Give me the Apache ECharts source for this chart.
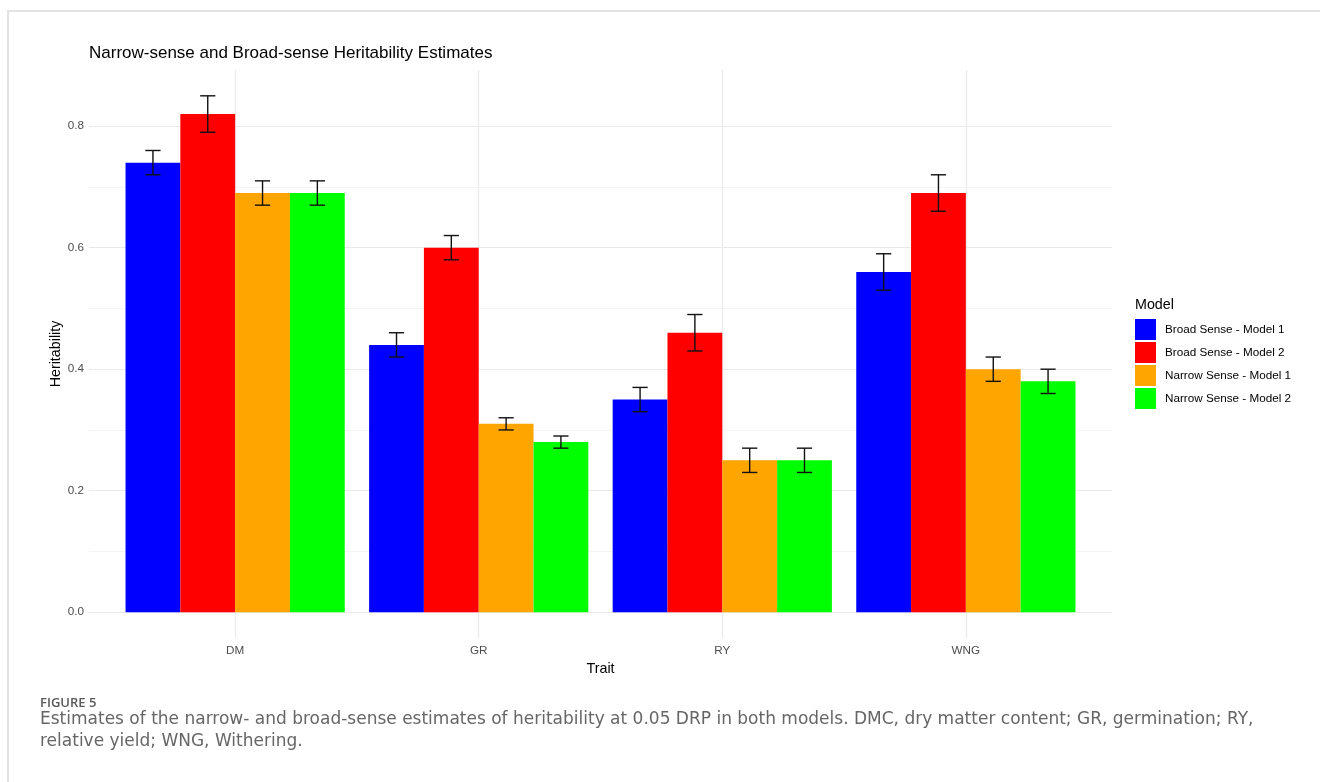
<!DOCTYPE html>
<html><head><meta charset="utf-8">
<script src="https://cdn.jsdelivr.net/npm/echarts@6/dist/echarts.min.js"></script>
<style>html,body{margin:0;padding:0;background:#fff}#c{width:1320px;height:782px}</style>
</head><body><div id="c"></div>
<script>
// ---- data ----
const categories = ['DM', 'GR', 'RY', 'WNG'];
const seriesNames = ['Broad Sense - Model 1', 'Broad Sense - Model 2', 'Narrow Sense - Model 1', 'Narrow Sense - Model 2'];
const broadModel1 = [0.74, 0.44, 0.35, 0.56];
const broadModel2 = [0.82, 0.60, 0.46, 0.69];
const narrowModel1 = [0.69, 0.31, 0.25, 0.40];
const narrowModel2 = [0.69, 0.28, 0.25, 0.38];
const broadModel1Err = [0.02, 0.02, 0.02, 0.03];
const broadModel2Err = [0.03, 0.02, 0.03, 0.03];
const narrowModel1Err = [0.02, 0.01, 0.02, 0.02];
const narrowModel2Err = [0.02, 0.01, 0.02, 0.02];
const yTickLabels = ['0.0', '0.2', '0.4', '0.6', '0.8'];
const colors = ['#0000FF', '#FF0000', '#FFA500', '#00FF00'];

// ---- layout ----
const FONT = "'Liberation Sans', Arial, sans-serif";
const CAPFONT = "'DejaVu Sans', sans-serif";
const panelLeft = 89, panelRight = 1112, panelTop = 70, panelBottom = 638;
const yMin = -0.0425, yMax = 0.8925;
const zeroY = panelBottom - (0 - yMin) / (yMax - yMin) * (panelBottom - panelTop);
const band = (panelRight - panelLeft) / 4.2;
const barGridLeft = panelLeft + 0.6 * band;
const barGridRight = panelRight - 0.6 * band;

const values = [broadModel1, broadModel2, narrowModel1, narrowModel2];
const errs = [broadModel1Err, broadModel2Err, narrowModel1Err, narrowModel2Err];

const errData = [];
values.forEach((arr, si) => arr.forEach((v, ci) => {
  errData.push([ci, si, v - errs[si][ci], v + errs[si][ci]]);
}));

const chart = echarts.init(document.getElementById('c'), null, { renderer: 'canvas' });

const barSeries = seriesNames.map((name, si) => ({
  name: name,
  type: 'bar',
  xAxisIndex: 1, yAxisIndex: 1,
  data: values[si],
  barGap: '0%',
  barCategoryGap: '10%',
  clip: false,
  itemStyle: { color: colors[si] },
  emphasis: { disabled: true },
  z: 2
}));

const option = {
  animation: false,
  backgroundColor: '#ffffff',
  textStyle: { fontFamily: FONT },
  title: {
    text: 'Narrow-sense and Broad-sense Heritability Estimates',
    left: 89, top: 45, padding: 0,
    textStyle: { fontFamily: FONT, fontSize: 17, fontWeight: 'normal', color: '#000' }
  },
  legend: {
    data: seriesNames,
    orient: 'vertical',
    left: 1135, top: 319, padding: 0,
    itemWidth: 21, itemHeight: 21, itemGap: 2,
    icon: 'rect',
    selectedMode: false,
    textStyle: { fontFamily: FONT, fontSize: 11.7, color: '#000', padding: [0, 0, 0, 4] }
  },
  grid: [
    { left: panelLeft, top: panelTop, width: panelRight - panelLeft, height: zeroY - panelTop },
    { left: barGridLeft, top: panelTop, width: barGridRight - barGridLeft, height: panelBottom - panelTop }
  ],
  xAxis: [
    { gridIndex: 0, type: 'value', min: 0, max: 1, show: false },
    {
      gridIndex: 1, type: 'category', data: categories, boundaryGap: false,
      axisLine: { show: false }, axisTick: { show: false },
      axisLabel: { color: '#4d4d4d', fontSize: 11.7, fontFamily: FONT, margin: 7 },
      splitLine: { show: true, lineStyle: { color: '#ebebeb', width: 1.3 } },
      name: 'Trait', nameLocation: 'middle', nameGap: 22,
      nameTextStyle: { color: '#000', fontSize: 14.3, fontFamily: FONT }
    }
  ],
  yAxis: [
    {
      gridIndex: 0, type: 'value', min: 0, max: yMax, interval: 0.1,
      axisLine: { show: false }, axisTick: { show: false },
      axisLabel: {
        color: '#4d4d4d', fontSize: 11.7, fontFamily: FONT, margin: 5, showMaxLabel: false,
        formatter: v => { const s = v.toFixed(1); return yTickLabels.indexOf(s) >= 0 && Math.abs(v - parseFloat(s)) < 1e-6 ? s : ''; }
      },
      splitLine: { show: true, showMaxLine: false, lineStyle: { color: ['#e9e9e9', '#f4f4f4'], width: 1.2 } }
    },
    { gridIndex: 1, type: 'value', min: yMin, max: yMax, show: false }
  ],
  series: barSeries.concat([{
    type: 'custom',
    xAxisIndex: 1, yAxisIndex: 1,
    data: errData,
    encode: { x: 0, y: [2, 3] },
    clip: false,
    z: 5,
    silent: true,
    renderItem: function (params, api) {
      const ci = api.value(0), si = api.value(1);
      const bw = api.size([1, 0])[0];
      const barW = bw * 0.9 / 4;
      const cx = api.coord([ci, 0])[0] + (si - 1.5) * barW;
      const lo = api.coord([ci, api.value(2)])[1];
      const hi = api.coord([ci, api.value(3)])[1];
      const hw = bw * 0.25 / 8;
      const st = { stroke: '#111', lineWidth: 1.4 };
      return {
        type: 'group', children: [
          { type: 'line', shape: { x1: cx, y1: lo, x2: cx, y2: hi }, style: st },
          { type: 'line', shape: { x1: cx - hw, y1: lo, x2: cx + hw, y2: lo }, style: st },
          { type: 'line', shape: { x1: cx - hw, y1: hi, x2: cx + hw, y2: hi }, style: st }
        ]
      };
    }
  }]),
  graphic: [
    { type: 'polyline', shape: { points: [[8, 782], [8, 11], [1320, 11]] }, style: { stroke: '#e3e3e3', lineWidth: 2, fill: null }, silent: true },
    { type: 'text', x: 1135, y: 305.5, style: { text: 'Model', font: '14.3px ' + FONT, fill: '#000', verticalAlign: 'middle' } },
    { type: 'text', x: 56, y: (panelTop + panelBottom) / 2, rotation: Math.PI / 2, style: { text: 'Heritability', font: '14.3px ' + FONT, fill: '#000', align: 'center', verticalAlign: 'middle' } },
    { type: 'text', x: 40, y: 703, style: { text: 'FIGURE 5', font: '600 13px "Open Sans", sans-serif', fill: '#595959', verticalAlign: 'middle' } },
    { type: 'text', x: 40, y: 720, style: { text: 'Estimates of the narrow- and broad-sense estimates of heritability at 0.05 DRP in both models. DMC, dry matter content; GR, germination; RY,', font: '17px ' + CAPFONT, fill: '#666', verticalAlign: 'middle' } },
    { type: 'text', x: 40, y: 742, style: { text: 'relative yield; WNG, Withering.', font: '17px ' + CAPFONT, fill: '#666', verticalAlign: 'middle' } }
  ]
};
chart.setOption(option);
</script>
</body></html>
